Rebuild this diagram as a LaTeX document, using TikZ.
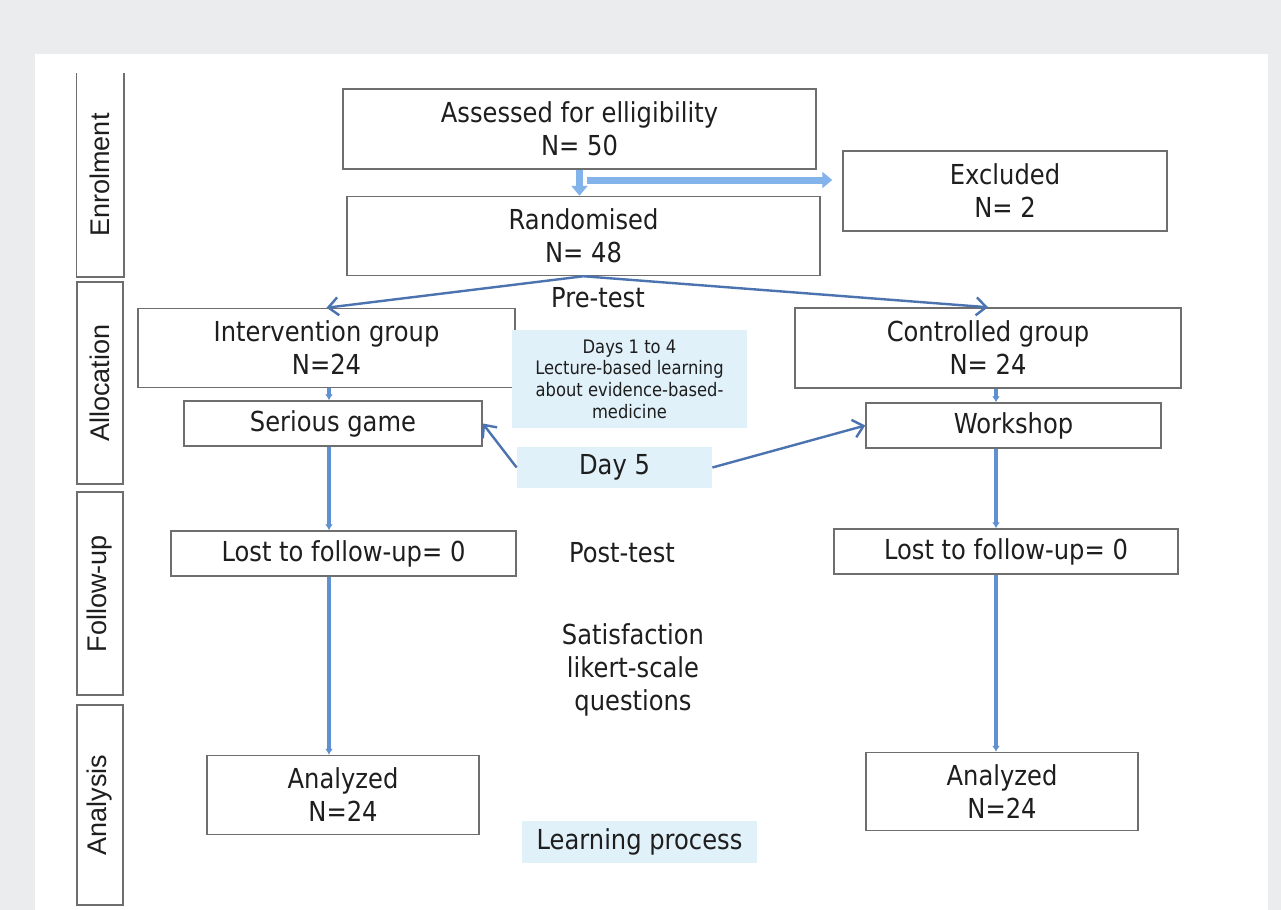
\documentclass[tikz,border=0pt]{standalone}
\usepackage{fontspec}
\setmainfont{DejaVu Sans}[FakeStretch=0.88]
\newfontfamily\phasefont{Liberation Sans}
\usetikzlibrary{arrows.meta,calc}
\definecolor{panelgray}{RGB}{235,236,238}
\definecolor{boxline}{RGB}{110,110,110}
\definecolor{paleblue}{RGB}{225,241,250}
\definecolor{flowblue}{RGB}{95,145,210}
\definecolor{linkblue}{RGB}{75,115,175}
\definecolor{fatblue}{RGB}{130,180,235}
\definecolor{inktext}{RGB}{30,30,30}
\tikzset{
    box/.style={draw=boxline, line width=0.75pt, fill=white, inner sep=0pt,
        align=center, text=inktext, font=\fontsize{13.75}{16.5}\selectfont},
    phase/.style={box, rotate=90, minimum height=23pt,
        font=\phasefont\fontsize{13.5}{16}\selectfont},
    note/.style={inner sep=0pt, align=center, text=inktext,
        font=\fontsize{13.75}{16.5}\selectfont},
    shade/.style={note, fill=paleblue},
    flow/.style={draw=flowblue, line width=1.8pt, -{Latex[length=3pt,width=4pt]}},
    link/.style={draw=linkblue, line width=1.2pt, -{Straight Barb[length=5pt,width=9pt]}},
    fat/.style={draw=fatblue, line width=3.5pt, -{Triangle[length=5pt,width=8pt]}}
}

\begin{document}
\begin{tikzpicture}[x=0.5pt,y=-0.5pt]
% panel
\fill[panelgray] (0,0) rectangle (1281,910);
\useasboundingbox (0,0) rectangle (1281,910);
\fill[white] (35,54) rectangle (1268,910);

% phases
\node[phase, draw=none, minimum width=101pt] (enrol) at (100,175) {Enrolment};
\draw[boxline, line width=0.75pt] (enrol.north east) -- (enrol.north west) -- (enrol.south west) -- (enrol.south east);
\node[phase, minimum width=101pt] (alloc) at (100,383) {Allocation};
\node[phase, minimum width=101.5pt] (follow) at (100,593.5) {Follow-up};
\node[phase, minimum width=100pt] (analysis) at (100,805) {Analysis};

% enrolment
\node[box, minimum width=236.5pt, minimum height=40pt] (assess) at (579.5,129) {Assessed for elligibility\\N= 50};
\node[box, minimum width=236.5pt, minimum height=39.5pt] (random) at (583.5,236) {Randomised\\N= 48};
\node[box, minimum width=162pt, minimum height=40pt] (excl) at (1005,191) {Excluded\\N= 2};
\coordinate (split) at (587,180);
\draw[fat] (assess.south) -- (assess.south |- random.north);
\draw[fat, shorten >=5pt] (split) -- (split -| excl.west);

% allocation
\node[box, minimum width=188.5pt, minimum height=39.5pt] (interv) at (326.5,348) {Intervention group\\N=24};
\node[box, minimum width=193pt, minimum height=40pt] (ctrl) at (988,348) {Controlled group\\N= 24};
\node[box, minimum width=149pt, minimum height=22.5pt] (game) at (333,423.5) {Serious game};
\node[box, minimum width=147.5pt, minimum height=22.5pt] (shop) at (1013.5,425.5) {Workshop};
\node[note] (pretest) at (598,298) {Pre-test};
\node[shade, minimum width=117.5pt, minimum height=49pt, font=\fontsize{9.3}{10.8}\selectfont] (days) at (629.5,379)
    {Days 1 to 4\\Lecture-based learning\\about evidence-based-\\medicine};
\node[shade, minimum width=97.5pt, minimum height=20.5pt] (day5) at (614.5,467.5) {Day 5};
\draw[link] (random.south) -- (interv.north);
\draw[link] (random.south) -- (ctrl.north);
\draw[link] (day5.west) -- (game.east);
\draw[link] (day5.east) -- (shop.west);

% follow-up
\node[box, minimum width=172.5pt, minimum height=22.5pt] (lostL) at (343.5,553.5) {Lost to follow-up= 0};
\node[box, minimum width=172pt, minimum height=22.5pt] (lostR) at (1006,551.5) {Lost to follow-up= 0};
\node[note] (posttest) at (622,553) {Post-test};
\node[note] (satis) at (633,670) {Satisfaction\\likert-scale\\questions};

% analysis
\node[box, minimum width=136pt, minimum height=39.5pt] (anaL) at (343,795) {Analyzed\\N=24};
\node[box, minimum width=136pt, minimum height=39pt] (anaR) at (1002,791.5) {Analyzed\\N=24};
\node[shade, minimum width=117.5pt, minimum height=21pt] (learn) at (639.5,842) {Learning process};

% columns
\coordinate (colL) at (329,0);
\coordinate (colR) at (996,0);
\draw[flow] (interv.south -| colL) -- (game.north -| colL);
\draw[flow] (game.south -| colL) -- (lostL.north -| colL);
\draw[flow] (lostL.south -| colL) -- (anaL.north -| colL);
\draw[flow] (ctrl.south -| colR) -- (shop.north -| colR);
\draw[flow] (shop.south -| colR) -- (lostR.north -| colR);
\draw[flow] (lostR.south -| colR) -- (anaR.north -| colR);
\end{tikzpicture}
\end{document}
